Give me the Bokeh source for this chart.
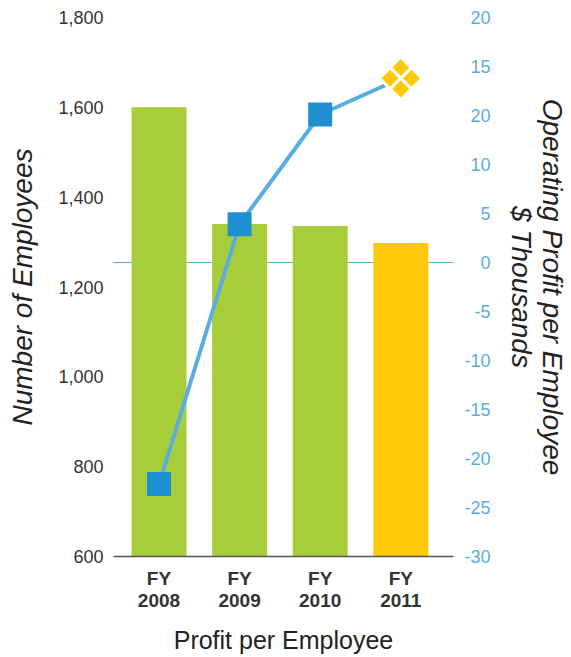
import math
from bokeh.plotting import figure
from bokeh.models import (Range1d, LinearAxis, FixedTicker, NumeralTickFormatter,
                          Span, ColumnDataSource)
from bokeh.embed import file_html
from bokeh.resources import INLINE

# ---- data ----
years = ["FY 2008", "FY 2009", "FY 2010", "FY 2011"]
year_tick_labels = ["FY\n2008", "FY\n2009", "FY\n2010", "FY\n2011"]
employees = [1600, 1340, 1336, 1298]
profit = [-22.6, 3.9, 15.1, 18.8]
bar_colors = ["#a7cd3a", "#a7cd3a", "#a7cd3a", "#fec80b"]

left_ticks = [600, 800, 1000, 1200, 1400, 1600, 1800]
right_ticks = [25, 20, 15, 10, 5, 0, -5, -10, -15, -20, -25, -30]
right_tick_labels = ["20", "15", "20", "10", "5", "0", "-5", "-10", "-15", "-20", "-25", "-30"]

x_title = "Profit per Employee"
left_title = "Number of Employees"
right_title = "Operating Profit per Employee\n$ Thousands"

FONT = "Liberation Sans"
LINE_BLUE = "#5aade0"
MARK_BLUE = "#1e8fd0"
TEXT = "#333333"
TITLE = "#222222"


def right_aligned(labels):
    """Pad labels with figure / three-per-em spaces so they line up on the right."""
    nd = max(sum(c.isdigit() for c in s) for s in labels)
    nm = max(s.count("-") for s in labels)
    out = []
    for s in labels:
        pad = "\u2004" * (nm - s.count("-")) + "\u2007" * (nd - sum(c.isdigit() for c in s))
        out.append(pad + s)
    return out


xs = list(range(len(years)))
x_lo, x_hi = -0.5645, 3.654
y_lo, y_hi = left_ticks[0], left_ticks[-1]

p = figure(width=571, height=657, output_backend="svg", toolbar_location=None,
           x_range=Range1d(x_lo, x_hi), y_range=Range1d(y_lo, y_hi),
           min_border_left=113, min_border_right=118,
           min_border_top=17, min_border_bottom=101)
p.extra_y_ranges = {"profit": Range1d(min(right_ticks), max(right_ticks))}
p.outline_line_color = None
p.xgrid.visible = False
p.ygrid.visible = False
p.background_fill_color = "white"
p.border_fill_color = "white"

# zero line of the profit axis
p.add_layout(Span(location=0, dimension="width", y_range_name="profit",
                  line_color=LINE_BLUE, line_width=1, level="underlay"))

src = ColumnDataSource(dict(x=xs, emp=employees, color=bar_colors, profit=profit))
p.vbar(x="x", top="emp", bottom=y_lo, width=0.682, fill_color="color",
       line_color=None, source=src)

p.line(x="x", y="profit", y_range_name="profit", line_width=4,
       line_color=LINE_BLUE, source=src)
p.scatter(xs[:3], profit[:3], y_range_name="profit", marker="square", size=24,
          fill_color=MARK_BLUE, line_color=None)
p.scatter(xs[3:], profit[3:], y_range_name="profit", marker="square_cross",
          angle=math.pi / 4, size=30, fill_color=bar_colors[3],
          line_color="white", line_width=3)

# bottom axis
xa = p.xaxis[0]
xa.ticker = FixedTicker(ticks=xs)
xa.major_label_overrides = {x: lbl for x, lbl in zip(xs, year_tick_labels)}
xa.major_label_text_font = FONT
xa.major_label_text_font_style = "bold"
xa.major_label_text_font_size = "19px"
xa.major_label_text_color = TEXT
xa.major_label_text_line_height = 1.08
xa.major_label_standoff = 11
xa.major_tick_line_color = None
xa.major_tick_out = 0
xa.minor_tick_line_color = None
xa.minor_tick_out = 0
xa.axis_line_color = "#555555"
xa.axis_line_width = 1.5
xa.axis_label = x_title
xa.axis_label_text_font = FONT
xa.axis_label_text_font_style = "normal"
xa.axis_label_text_font_size = "25px"
xa.axis_label_text_color = TITLE
xa.axis_label_standoff = 12

# left axis
ya = p.yaxis[0]
ya.ticker = FixedTicker(ticks=left_ticks)
ya.formatter = NumeralTickFormatter(format="0,0")
ya.major_label_text_font = FONT
ya.major_label_text_font_size = "18px"
ya.major_label_text_color = TEXT
ya.major_label_standoff = 10
ya.major_tick_line_color = None
ya.major_tick_out = 0
ya.minor_tick_line_color = None
ya.minor_tick_out = 0
ya.axis_line_color = None
ya.axis_label = left_title
ya.axis_label_text_font = FONT
ya.axis_label_text_font_style = "italic"
ya.axis_label_text_font_size = "28px"
ya.axis_label_text_color = TITLE
ya.axis_label_standoff = 17

# right axis: profit per employee
ra = LinearAxis(y_range_name="profit", ticker=FixedTicker(ticks=right_ticks))
ra.major_label_overrides = dict(zip(right_ticks, right_aligned(right_tick_labels)))
ra.major_label_text_font = FONT
ra.major_label_text_font_size = "18px"
ra.major_label_text_color = LINE_BLUE
ra.major_label_standoff = 11
ra.major_tick_line_color = None
ra.major_tick_out = 0
ra.minor_tick_line_color = None
ra.minor_tick_out = 0
ra.axis_line_color = None
ra.axis_label = right_title
ra.axis_label_text_font = FONT
ra.axis_label_text_font_style = "italic"
ra.axis_label_text_font_size = "28px"
ra.axis_label_text_color = TITLE
ra.axis_label_text_line_height = 1.0
ra.axis_label_standoff = 12
p.add_layout(ra, "right")

open("out.html", "w").write(file_html(p, INLINE))
